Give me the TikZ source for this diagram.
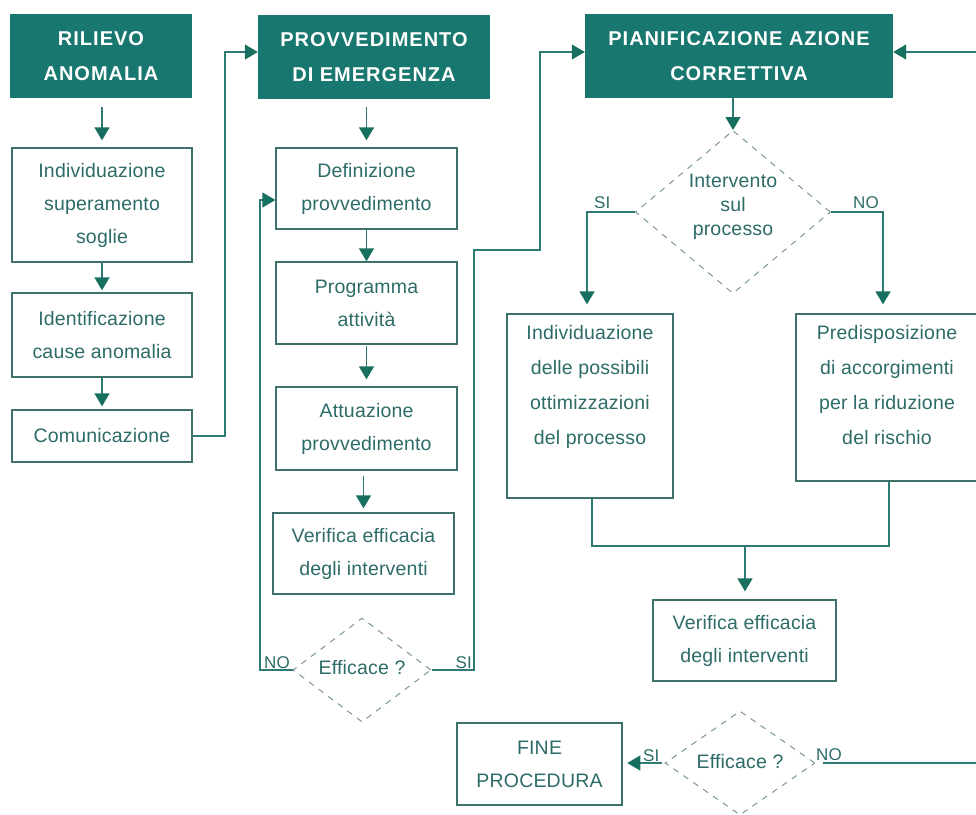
\documentclass[tikz,border=0pt]{standalone}
\usepackage{fontspec}
\setmainfont{Liberation Sans}
\newfontfamily\hdrfont{Liberation Sans}[LetterSpace=5]
\newfontfamily\bodyfont{Liberation Sans}[LetterSpace=1]
\usetikzlibrary{arrows.meta,shapes.geometric}
\definecolor{tealF}{HTML}{18776E}
\definecolor{lineC}{HTML}{2F7A74}
\definecolor{headC}{HTML}{17705F}
\definecolor{txtC}{HTML}{2C6B67}
\definecolor{boxC}{HTML}{3F716C}
\definecolor{dashC}{HTML}{7A9893}
\tikzset{
  hdr/.style={rectangle, fill=tealF, draw=none, text=white, align=center,
    font=\hdrfont\bfseries\fontsize{20}{35}\selectfont, inner sep=0pt},
  stepbox/.style={rectangle, draw=boxC, line width=1.3pt, text=txtC, align=center,
    font=\bodyfont\fontsize{19.5}{33}\selectfont, inner sep=0pt},
  endbox/.style={stepbox, line width=2.6pt},
  dia/.style={diamond, draw=dashC, dash pattern=on 6pt off 6pt, line width=1pt, inner sep=0pt},
  txt/.style={text=txtC, align=center, font=\bodyfont\fontsize{19.5}{35}\selectfont, inner sep=0pt},
  diatxt/.style={text=txtC, align=center, font=\bodyfont\fontsize{19.5}{24}\selectfont, inner sep=0pt},
  lbl/.style={text=txtC, font=\bodyfont\fontsize{17}{20}\selectfont, inner sep=0pt},
  conn/.style={draw=lineC, line width=1.4pt},
  arr/.style={conn, -{Triangle[width=15pt,length=13pt,color=headC]}},
}
\begin{document}
\begin{tikzpicture}[x=1pt,y=-1pt]
\useasboundingbox (0,0) rectangle (976,814);
\clip (0,0) rectangle (976,814);

% headers
\node[hdr, minimum width=182pt, minimum height=84pt] (h1) at (101,56) {RILIEVO\\ANOMALIA};
\node[hdr, minimum width=232pt, minimum height=84pt] (h2) at (374,57) {PROVVEDIMENTO\\DI EMERGENZA};
\node[hdr, minimum width=308pt, minimum height=84pt] (h3) at (739,56) {PIANIFICAZIONE AZIONE\\CORRETTIVA};

% left column
\node[stepbox, minimum width=180pt, minimum height=114pt] (a1) at (102,205) {Individuazione\\superamento\\soglie};
\node[stepbox, minimum width=180pt, minimum height=84pt] (a2) at (102,335) {Identificazione\\cause anomalia};
\node[stepbox, minimum width=180pt, minimum height=52pt] (a3) at (102,436) {Comunicazione};

% middle column
\node[stepbox, minimum width=181pt, minimum height=81pt] (b1) at (366.5,188.5) {Definizione\\provvedimento};
\node[stepbox, minimum width=181pt, minimum height=82pt] (b2) at (366.5,303) {Programma\\attività};
\node[stepbox, minimum width=181pt, minimum height=83pt] (b3) at (366.5,428.5) {Attuazione\\provvedimento};
\node[stepbox, minimum width=181pt, minimum height=81pt] (b4) at (363.5,553.5) {Verifica efficacia\\degli interventi};
\node[dia, minimum width=138pt, minimum height=104pt] (d1) at (362,670) {};
\node[diatxt] (d1t) at (362,668) {Efficace ?};

% right part
\node[dia, minimum width=195pt, minimum height=163pt] (d2) at (733,212) {};
\node[diatxt] (d2t) at (733,207) {Intervento\\sul\\processo};
\node[stepbox, minimum width=166pt, minimum height=184pt] (c1) at (590,406) {};
\node[txt, anchor=north] (c1t) at (590,325) {Individuazione\\delle possibili\\ottimizzazioni\\del processo};
\node[stepbox, minimum width=184pt, minimum height=167pt] (c2) at (888,397.5) {};
\node[txt, anchor=north] (c2t) at (887,325) {Predisposizione\\di accorgimenti\\per la riduzione\\del rischio};
\node[stepbox, minimum width=183pt, minimum height=81pt] (c3) at (744.5,640.5) {Verifica efficacia\\degli interventi};
\node[dia, minimum width=150pt, minimum height=104pt] (d3) at (740,763) {};
\node[diatxt] (d3t) at (740,762) {Efficace ?};
\node[endbox, minimum width=165pt, minimum height=82pt] (fine) at (539.5,764) {FINE\\PROCEDURA};

% coordinates for bends
\coordinate (k1) at (225,52);
\coordinate (k2) at (260,200);
\coordinate (k3) at (474,250);
\coordinate (k4) at (540,52);
\coordinate (k7) at (745,546);
\coordinate (k8) at (992,763);
\coordinate (k9) at (992,52);

% left column arrows
\draw[arr, shorten <=9pt, shorten >=7pt] (a1.north |- h1.south) -- (a1.north);
\draw[arr, shorten >=2pt] (a1.south) -- (a2.north);
\draw[arr, shorten >=3pt] (a2.south) -- (a3.north);
\draw[arr] (a3.east) -| (k1) -- (h2.west |- k1);

% middle column arrows
\draw[arr, shorten <=8pt, shorten >=7pt] (b1.north |- h2.south) -- (b1.north);
\draw[arr] (b1.south) -- (b2.north);
\draw[arr, shorten <=1pt, shorten >=7pt] (b2.south) -- (b3.north);
\draw[arr, shorten <=5pt, shorten >=4pt] (b4.north |- b3.south) -- (b4.north);
\draw[arr] (d1.west) -| (k2) -- (b1.west |- k2);
\draw[arr] (d1.east) -| (k3) -| (k4) -- (h3.west |- k4);
\node[lbl, anchor=base west] (lno1) at (264,668) {NO};
\node[lbl, anchor=base east] (lsi1) at (472,668) {SI};

% right part arrows
\draw[arr] (d2.north |- h3.south) -- (d2.north);
\draw[arr, shorten >=9pt] (d2.west) -| ([xshift=-3pt]c1.north);
\draw[arr, shorten >=9pt] (d2.east) -| ([xshift=-5pt]c2.north);
\node[lbl, anchor=base west] (lsi2) at (594,208) {SI};
\node[lbl, anchor=base west] (lno2) at (853,208) {NO};
\draw[conn] ([xshift=2pt]c1.south) |- (k7) -| ([xshift=1pt]c2.south);
\draw[arr, shorten >=8pt] (k7) -- (c3.north -| k7);
\draw[arr, shorten <=3pt, shorten >=4pt] (d3.west) -- (fine.east |- d3.west);
\node[lbl, anchor=base west] (lsi3) at (643,761) {SI};
\node[lbl, anchor=base west] (lno3) at (816,760) {NO};
\draw[arr] ([xshift=7pt]d3.east) -- (k8) -- (k9) -- (h3.east |- k9);
\end{tikzpicture}
\end{document}
